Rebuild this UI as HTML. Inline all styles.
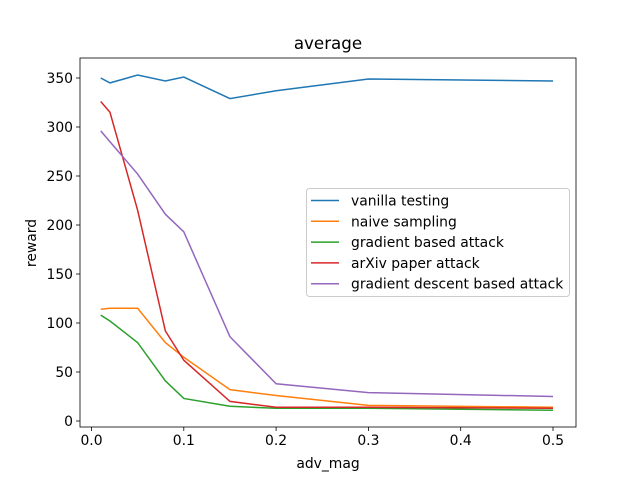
<!DOCTYPE html>
<html><head><style>
body{margin:0;background:#fff;}
svg{display:block;font-family:"DejaVu Sans","Liberation Sans",sans-serif;}
</style></head><body>
<svg id="chart" width="640" height="480" viewBox="0 0 640 480"></svg>
<script>
const xValues=[0.01,0.02,0.05,0.08,0.1,0.15,0.2,0.3,0.5];
const seriesNames=["vanilla testing","naive sampling","gradient based attack","arXiv paper attack","gradient descent based attack"];
const vanilla=[350,345,353,347,351,329,337,349,347];
const naive=[114,115,115,80,65,32,26,16,14];
const gradient=[108,102,80,41,23,15,13,13,11];
const arxiv=[326,315,215,92,62,20,14,14,13];
const descent=[296,285,252,211,193,86,38,29,25];
const xTicks=[0,0.1,0.2,0.3,0.4,0.5];
const xTickLabels=["0.0","0.1","0.2","0.3","0.4","0.5"];
const yTicks=[0,50,100,150,200,250,300,350];
const colors=["#1f77b4","#ff7f0e","#2ca02c","#d62728","#9467bd"];
const allSeries=[vanilla,naive,gradient,arxiv,descent];
const NS="http://www.w3.org/2000/svg";
const svg=document.getElementById('chart');
const L=80,R=576,T=58,B=427;
const xs=v=>91.5+v*923;
const ys=v=>421-v*0.98;
function mk(t,a,p){const e=document.createElementNS(NS,t);for(const k in a)e.setAttribute(k,a[k]);(p||svg).appendChild(e);return e;}
const title=mk('text',{x:328,y:49,'text-anchor':'middle','font-size':16.7,fill:'#000'});title.textContent='average';


xTicks.forEach((t,i)=>{const x=xs(t);
 const l=mk('line',{x1:x,x2:x,y1:B,y2:B+4,stroke:'#000','stroke-width':0.8});
 
 
 const tx=mk('text',{x:x,y:B+18,'text-anchor':'middle','font-size':13.9});tx.textContent=xTickLabels[i];
 
 
});
yTicks.forEach(t=>{const y=ys(t);
 const l=mk('line',{x1:L-4,x2:L,y1:y,y2:y,stroke:'#000','stroke-width':0.8});
 
 
 const tx=mk('text',{x:L-7,y:y+5,'text-anchor':'end','font-size':13.9});tx.textContent=t;
 
 
});
const xl=mk('text',{x:328,y:468,'text-anchor':'middle','font-size':13.9});xl.textContent='adv_mag';


const yl=mk('text',{x:36,y:243,'text-anchor':'middle','font-size':13.9,transform:'rotate(-90 36 243)'});yl.textContent='reward';


allSeries.forEach((s,i)=>{
 const p=mk('polyline',{points:s.map((v,j)=>xs(xValues[j])+','+ys(v)).join(' '),fill:'none',stroke:colors[i],'stroke-width':1.5});
 
 
});
const frame=mk('rect',{x:L,y:T,width:R-L,height:B-T,fill:'none',stroke:'#000','stroke-width':0.8});


const lg=mk('g',{});


mk('rect',{x:306.5,y:188.5,width:263,height:108,rx:3,fill:'#fff','fill-opacity':0.8,stroke:'#ccc'},lg);
seriesNames.forEach((n,i)=>{const y=200.5+i*20.8;
 const g=mk('g',{},lg);
 
 
 mk('line',{x1:311,x2:339,y1:y,y2:y,stroke:colors[i],'stroke-width':1.5},g);
 const t=mk('text',{x:351,y:y+5,'font-size':13.9},g);t.textContent=n;
});
</script>
</body></html>
